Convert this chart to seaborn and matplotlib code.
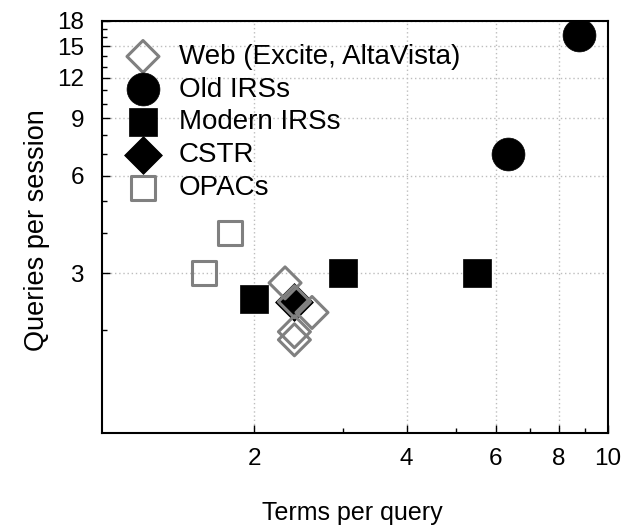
import matplotlib
matplotlib.use("Agg")
import matplotlib.pyplot as plt
from matplotlib.ticker import FixedLocator, NullFormatter, FixedFormatter
import seaborn as sns
import pandas as pd

# ---- data ----
web_x = [2.3, 2.6, 2.4, 2.4, 2.4]
web_y = [2.8, 2.27, 1.98, 1.87, 2.45]
old_x = [8.75, 6.35]
old_y = [16.3, 7.0]
modern_x = [2.0, 3.0, 5.5]
modern_y = [2.5, 3.0, 3.0]
cstr_x = [2.4]
cstr_y = [2.45]
opac_x = [1.59, 1.79]
opac_y = [3.0, 4.0]

labels = ["Web (Excite, AltaVista)", "Old IRSs", "Modern IRSs", "CSTR", "OPACs"]
x_major = [2, 4, 6, 8, 10]
x_minor = [3, 5, 7, 9]
y_major = [3, 6, 9, 12, 15, 18]
y_minor = [2, 4, 5, 7, 8, 10, 11, 13, 14, 16, 17]

sns.set_style("white")
plt.rcParams["font.family"] = ["Liberation Sans", "DejaVu Sans"]
plt.rcParams["text.color"] = "black"
plt.rcParams["axes.labelcolor"] = "black"
plt.rcParams["xtick.color"] = "black"
plt.rcParams["ytick.color"] = "black"

fig = plt.figure(figsize=(6.21, 5.28), dpi=100)
ax = fig.add_axes([0.1643, 0.1799, 0.8148, 0.7809])

GRAY = "#808080"

def df(x, y):
    return pd.DataFrame({"x": x, "y": y})

sns.scatterplot(data=df(cstr_x, cstr_y), x="x", y="y", ax=ax, marker="D",
                s=370, color="black", edgecolor="black", linewidth=0.6,
                zorder=3, label=labels[3])
sns.scatterplot(data=df(web_x, web_y), x="x", y="y", ax=ax, marker="D",
                s=265, facecolor="none", edgecolor=GRAY, linewidth=2.2,
                zorder=4, label=labels[0])
sns.scatterplot(data=df(old_x, old_y), x="x", y="y", ax=ax, marker="o",
                s=560, color="black", edgecolor="black", linewidth=0.5,
                zorder=3, label=labels[1])
sns.scatterplot(data=df(modern_x, modern_y), x="x", y="y", ax=ax, marker="s",
                s=400, color="black", edgecolor="black", linewidth=0.5,
                zorder=3, label=labels[2])
sns.scatterplot(data=df(opac_x, opac_y), x="x", y="y", ax=ax, marker="s",
                s=300, facecolor="none", edgecolor=GRAY, linewidth=2.2,
                zorder=3, label=labels[4])

ax.set_xscale("log")
ax.set_yscale("log")
ax.set_xlim(1, 10)
ax.set_ylim(0.965, 18)

ax.xaxis.set_major_locator(FixedLocator(x_major))
ax.xaxis.set_major_formatter(FixedFormatter([str(v) for v in x_major]))
ax.xaxis.set_minor_locator(FixedLocator(x_minor))
ax.xaxis.set_minor_formatter(NullFormatter())
ax.yaxis.set_major_locator(FixedLocator(y_major))
ax.yaxis.set_major_formatter(FixedFormatter([str(v) for v in y_major]))
ax.yaxis.set_minor_locator(FixedLocator(y_minor))
ax.yaxis.set_minor_formatter(NullFormatter())

ax.tick_params(axis="both", which="major", direction="in", length=6, width=1,
               labelsize=17.5, colors="black")
ax.tick_params(axis="x", which="major", pad=11)
ax.tick_params(axis="y", which="major", pad=13)
ax.tick_params(axis="both", which="minor", direction="in", length=3.5, width=1,
               colors="black")
ax.tick_params(bottom=True, left=True, which="both")

ax.grid(True, which="major", linestyle=(0, (1, 2)), color="#bdbdbd", linewidth=1)
ax.set_axisbelow(True)
for sp in ax.spines.values():
    sp.set_color("black")
    sp.set_linewidth(1.5)

ax.set_xlabel("Terms per query", fontsize=18, color="black")
ax.set_ylabel("Queries per session", fontsize=19.5, color="black")
ax.xaxis.set_label_coords(0.494, -0.165)
ax.yaxis.set_label_coords(-0.103, 0.491)

handles, labs = ax.get_legend_handles_labels()
hmap = dict(zip(labs, handles))
leg = ax.legend([hmap[l] for l in labels], labels, loc="upper left",
                bbox_to_anchor=(0.048, 0.944), frameon=False, fontsize=20,
                borderaxespad=0, borderpad=0, handlelength=1.2, handletextpad=0.7,
                labelspacing=0.245)
for t in leg.get_texts():
    t.set_color("black")

fig.savefig("out.png", dpi=100)
